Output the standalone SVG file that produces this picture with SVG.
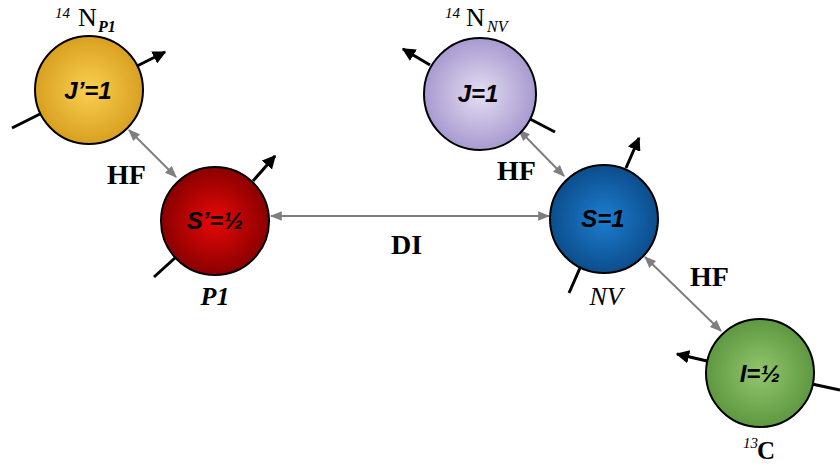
<svg xmlns="http://www.w3.org/2000/svg" width="840" height="464" viewBox="0 0 840 464">
<defs>
<radialGradient id="gY" cx="50%" cy="50%" r="50%"><stop offset="0" stop-color="#fad052"/><stop offset="1" stop-color="#d9a020"/></radialGradient>
<radialGradient id="gR" cx="50%" cy="50%" r="50%"><stop offset="0" stop-color="#e80808"/><stop offset="1" stop-color="#8a0000"/></radialGradient>
<radialGradient id="gP" cx="50%" cy="50%" r="50%"><stop offset="0" stop-color="#e4def2"/><stop offset="1" stop-color="#a89ad0"/></radialGradient>
<radialGradient id="gB" cx="50%" cy="50%" r="50%"><stop offset="0" stop-color="#1c7ed0"/><stop offset="1" stop-color="#0c4d8c"/></radialGradient>
<radialGradient id="gG" cx="50%" cy="50%" r="50%"><stop offset="0" stop-color="#92c66e"/><stop offset="1" stop-color="#5e9840"/></radialGradient>
<marker id="ab" viewBox="0 0 10 10" refX="9" refY="5" markerWidth="4.5" markerHeight="4.5" orient="auto"><path d="M0,0 L10,5 L0,10 z" fill="#000"/></marker>
<marker id="ag" viewBox="0 0 10 10" refX="9" refY="5" markerWidth="6" markerHeight="6" orient="auto-start-reverse"><path d="M0,1 L10,5 L0,9 z" fill="#7f7f7f"/></marker>
</defs>
<style>
.c{stroke:#000;stroke-width:2}
.ax{stroke:#000;stroke-width:3;fill:none}
.lbl{font-family:"Liberation Sans",Arial,sans-serif;font-weight:bold;font-style:italic;font-size:24px;text-anchor:middle}
.hf{font-family:"Liberation Serif","Times New Roman",serif;font-weight:bold;font-size:28px}
.nm{font-family:"Liberation Serif","Times New Roman",serif}
.con{stroke:#7f7f7f;stroke-width:2;fill:none;marker-start:url(#ag);marker-end:url(#ag)}
</style>
<g id="connectors">
<line class="con" x1="129" y1="130" x2="176" y2="177"/>
<line class="con" x1="271" y1="216" x2="549" y2="216"/>
<line class="con" x1="519" y1="130" x2="564" y2="176"/>
<line class="con" x1="645" y1="257" x2="721" y2="331"/>
</g>
<g id="nodeJp">
<line class="ax" x1="12" y1="128" x2="40" y2="114"/>
<line class="ax" x1="137" y1="66" x2="165" y2="52" marker-end="url(#ab)"/>
<circle class="c" cx="89" cy="90" r="54" fill="url(#gY)"/>
<text class="lbl" x="88" y="99">J’=1</text>
<text class="nm" x="55" y="18" font-size="15" font-style="italic">14</text>
<text class="nm" x="78" y="26" font-size="26">N</text>
<text class="nm" x="98" y="32" font-size="16" font-style="italic" font-weight="bold">P1</text>
</g>
<g id="nodeSp">
<line class="ax" x1="154" y1="277" x2="176" y2="257"/>
<line class="ax" x1="253" y1="181" x2="275" y2="156" marker-end="url(#ab)"/>
<circle class="c" cx="215" cy="221" r="54" fill="url(#gR)"/>
<text class="lbl" x="215" y="229">S’=½</text>
<text class="nm" x="215" y="305" font-size="26" font-style="italic" font-weight="bold" text-anchor="middle">P1</text>
</g>
<g id="nodeJ">
<line class="ax" x1="530" y1="119" x2="555" y2="132"/>
<line class="ax" x1="430" y1="65" x2="403" y2="49" marker-end="url(#ab)"/>
<circle class="c" cx="480" cy="94" r="56" fill="url(#gP)"/>
<text class="lbl" x="478" y="102">J=1</text>
<text class="nm" x="445" y="18" font-size="15" font-style="italic">14</text>
<text class="nm" x="466" y="26" font-size="26">N</text>
<text class="nm" x="487" y="32" font-size="16" font-style="italic">NV</text>
</g>
<g id="nodeS">
<line class="ax" x1="569" y1="293" x2="580" y2="268"/>
<line class="ax" x1="626" y1="168" x2="639" y2="138" marker-end="url(#ab)"/>
<circle class="c" cx="604" cy="219" r="54" fill="url(#gB)"/>
<text class="lbl" x="603" y="227">S=1</text>
<text class="nm" x="606" y="305" font-size="26" font-style="italic" text-anchor="middle">NV</text>
</g>
<g id="nodeI">
<line class="ax" x1="812" y1="384" x2="840" y2="390"/>
<line class="ax" x1="707" y1="361" x2="677" y2="354" marker-end="url(#ab)"/>
<circle class="c" cx="760" cy="373" r="54" fill="url(#gG)"/>
<text class="lbl" x="760" y="382">I=½</text>
<text class="nm" x="743" y="448" font-size="15" font-style="italic">13</text>
<text class="nm" x="757" y="459" font-size="25" font-weight="bold">C</text>
</g>
<g id="labels">
<text class="hf" x="107" y="184">HF</text>
<text class="hf" x="497" y="180">HF</text>
<text class="hf" x="690" y="286">HF</text>
<text class="hf" x="391" y="254" font-size="30">DI</text>
</g>
</svg>
